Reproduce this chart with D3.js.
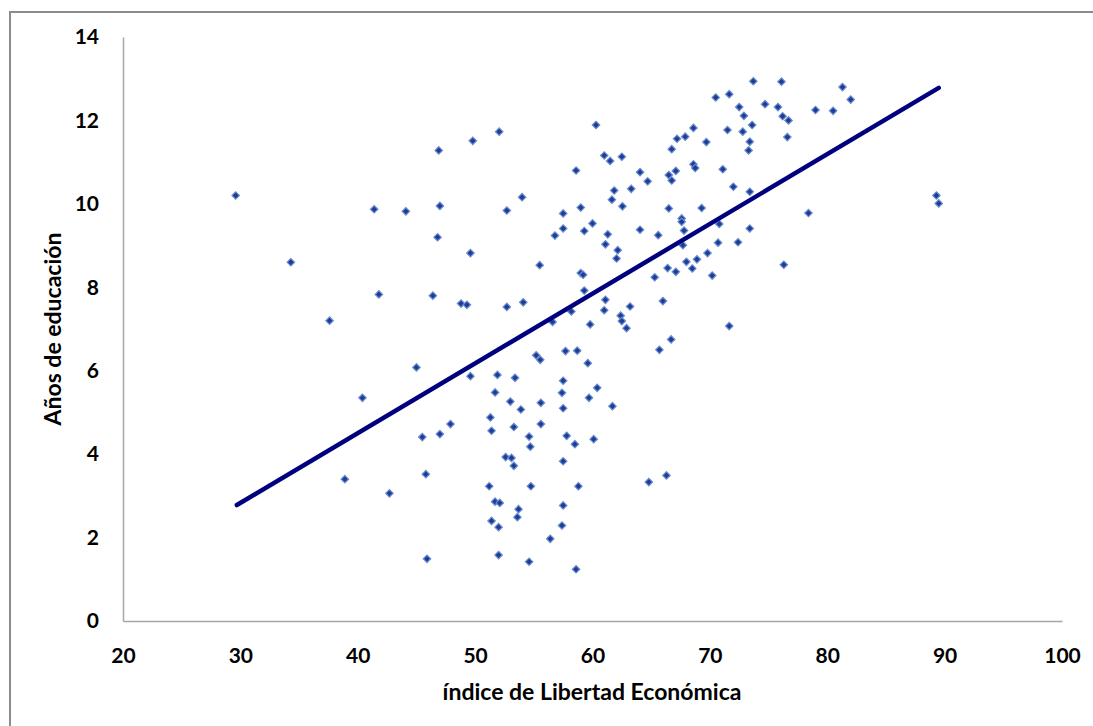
<!DOCTYPE html>
<html>
<head>
<meta charset="utf-8">
<script src="https://cdn.jsdelivr.net/npm/d3@7"></script>
<style>
  body { margin: 0; background: #fff; }
  svg { display: block; }
</style>
</head>
<body>
<script>
// Índice de libertad económica (eje X)
const libertad = [
  29.6, 34.3, 37.6, 38.9, 40.4, 41.4, 41.8, 42.7, 44.1, 45.0,
  45.5, 45.8, 45.9, 46.4, 46.8, 46.9, 47.0, 47.0, 47.9, 48.8,
  49.3, 49.6, 49.6, 49.8, 51.2, 51.3, 51.4, 51.4, 51.7, 51.7,
  51.9, 52.0, 52.0, 52.05, 52.1, 52.6, 52.7, 52.7, 53.0, 53.1,
  53.3, 53.3, 53.4, 53.6, 53.7, 53.9, 54.0, 54.1, 54.6, 54.6,
  54.7, 54.75, 55.2, 55.5, 55.55, 55.6, 55.6, 56.4, 56.6, 56.8,
  57.4, 57.4, 57.5, 57.5, 57.5, 57.5, 57.5, 57.5, 57.7, 57.8,
  58.2, 58.5, 58.6, 58.6, 58.7, 58.8, 59.0, 59.0, 59.2, 59.3,
  59.3, 59.6, 59.7, 59.8, 60.0, 60.1, 60.3, 60.4, 61.0, 61.0,
  61.1, 61.1, 61.3, 61.5, 61.65, 61.7, 61.85, 62.05, 62.15, 62.4,
  62.5, 62.5, 62.55, 62.9, 63.2, 63.3, 64.05, 64.05, 64.7, 64.8,
  65.3, 65.6, 65.7, 66.0, 66.3, 66.4, 66.5, 66.5, 66.7, 66.75,
  66.75, 67.1, 67.1, 67.2, 67.6, 67.6, 67.7, 67.8, 67.9, 68.0,
  68.5, 68.6, 68.6, 68.75, 68.9, 69.3, 69.7, 69.8, 70.2, 70.5,
  70.7, 70.8, 71.1, 71.5, 71.65, 71.65, 72.0, 72.4, 72.5, 72.8,
  72.9, 73.3, 73.4, 73.4, 73.4, 73.6, 73.7, 74.7, 75.8, 76.1,
  76.2, 76.3, 76.6, 76.7, 78.4, 79.0, 80.5, 81.3, 82.0, 89.3,
  89.5
];

// Años de educación (eje Y)
const educacion = [
  10.2, 8.6, 7.2, 3.4, 5.35, 9.87, 7.83, 3.06, 9.82, 6.08,
  4.41, 3.52, 1.49, 7.8, 9.2, 11.28, 9.95, 4.48, 4.72, 7.61,
  7.58, 8.82, 5.87, 11.51, 3.23, 4.88, 4.56, 2.40, 5.48, 2.86,
  5.9, 2.25, 1.58, 11.73, 2.83, 3.93, 9.84, 7.53, 5.26, 3.91,
  3.72, 4.65, 5.83, 2.49, 2.68, 5.07, 10.16, 7.64, 4.42, 1.42,
  4.18, 3.23, 6.37, 8.53, 6.26, 5.23, 4.72, 1.97, 7.17, 9.24,
  5.47, 2.29, 9.77, 9.41, 5.10, 3.83, 2.77, 5.76, 6.47, 4.44,
  7.42, 4.24, 10.8, 1.24, 6.48, 3.23, 9.91, 8.34, 8.30, 9.35,
  7.92, 6.18, 5.35, 7.11, 9.53, 4.36, 11.89, 5.59, 11.16, 7.45,
  9.03, 7.70, 9.27, 11.03, 10.1, 5.15, 10.32, 8.69, 8.89, 7.32,
  11.13, 7.19, 9.94, 7.02, 7.54, 10.36, 10.76, 9.38, 10.54, 3.33,
  8.24, 9.25, 6.5, 7.67, 3.49, 8.46, 10.69, 9.89, 6.75, 11.31,
  10.56, 10.79, 8.37, 11.56, 9.65, 9.57, 9.01, 9.36, 11.61, 8.61,
  8.45, 11.82, 10.95, 10.86, 8.67, 9.9, 11.48, 8.82, 8.28, 12.55,
  9.07, 9.52, 10.83, 11.77, 12.63, 7.07, 10.41, 9.08, 12.32, 11.73,
  12.11, 11.28, 11.49, 10.29, 9.41, 11.89, 12.94, 12.39, 12.32, 12.93,
  12.1, 8.54, 11.6, 12.0, 9.78, 12.25, 12.23, 12.80, 12.50, 10.2,
  10.01
];

// Extremos de la línea de tendencia
const tendenciaX = [29.7, 89.5];
const tendenciaY = [2.78, 12.78];

const xTicks = [20, 30, 40, 50, 60, 70, 80, 90, 100];
const yTicks = [0, 2, 4, 6, 8, 10, 12, 14];

const width = 1093;
const height = 726;
const margin = { top: 37, right: 31, bottom: 105, left: 123 };
const fuente = "Lato, 'Open Sans', sans-serif";

const svg = d3
  .select("body")
  .append("svg")
  .attr("width", width)
  .attr("height", height);

svg.append("rect").attr("width", width).attr("height", height).attr("fill", "#fff");

// marco del gráfico (solo se ven los bordes superior e izquierdo)
svg
  .append("rect")
  .attr("x", 10)
  .attr("y", 12)
  .attr("width", width + 20)
  .attr("height", height + 20)
  .attr("fill", "none")
  .attr("stroke", "#8c8c8c")
  .attr("stroke-width", 2);

const xScale = d3
  .scaleLinear()
  .domain([20, 100])
  .range([margin.left, width - margin.right]);

const yScale = d3
  .scaleLinear()
  .domain([0, 14])
  .range([height - margin.bottom, margin.top]);

// Ejes sin marcas
const xAxis = d3.axisBottom(xScale).tickValues(xTicks).tickSize(0).tickPadding(24);
const yAxis = d3.axisLeft(yScale).tickValues(yTicks).tickSize(0).tickPadding(24);

const gx = svg
  .append("g")
  .attr("transform", `translate(0, ${yScale(0)})`)
  .call(xAxis);

const gy = svg
  .append("g")
  .attr("transform", `translate(${xScale(20)}, 0)`)
  .call(yAxis);

[gx, gy].forEach((g) => {
  g.select(".domain").attr("stroke", "#a6a6a6").attr("stroke-width", 1.5);
  g.selectAll("text")
    .attr("fill", "#000")
    .style("font-family", fuente)
    .style("font-size", "21px")
    .style("font-weight", "bold");
});
gx.selectAll("text").attr("dy", "0.35em").attr("y", 35);

// Puntos (rombos)
const rombo = d3.symbol().type(d3.symbolSquare).size(28);

svg
  .append("g")
  .selectAll("path")
  .data(libertad.map((x, i) => ({ x: x, y: educacion[i] })))
  .join("path")
  .attr("d", rombo)
  .attr("transform", (d) => `translate(${xScale(d.x)}, ${yScale(d.y)}) rotate(45)`)
  .attr("fill", "#1f3c97")
  .attr("stroke", "#6a8ed0")
  .attr("stroke-width", 1.2);

// Línea de tendencia
svg
  .append("path")
  .datum(tendenciaX.map((x, i) => [x, tendenciaY[i]]))
  .attr("d", d3.line().x((d) => xScale(d[0])).y((d) => yScale(d[1])))
  .attr("fill", "none")
  .attr("stroke", "#00007f")
  .attr("stroke-width", 4.5)
  .attr("stroke-linecap", "round");

// Títulos de los ejes
svg
  .append("text")
  .attr("x", 592)
  .attr("y", 700)
  .attr("text-anchor", "middle")
  .style("font-family", fuente)
  .style("font-size", "23px")
  .style("font-weight", "bold")
  .text("índice de Libertad Económica");

svg
  .append("text")
  .attr("transform", "translate(61, 329) rotate(-90)")
  .attr("text-anchor", "middle")
  .style("font-family", fuente)
  .style("font-size", "23px")
  .style("font-weight", "bold")
  .text("Años de educación");
</script>
</body>
</html>
